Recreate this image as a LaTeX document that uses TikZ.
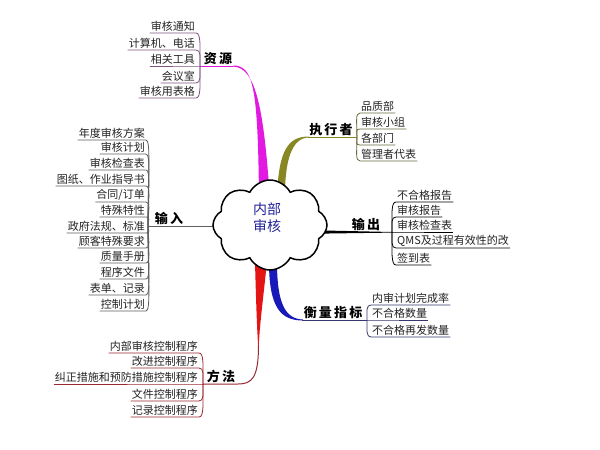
\documentclass[tikz,border=0pt]{standalone}
\usepackage{fontspec}
\setmainfont{Noto Sans CJK SC}
\usetikzlibrary{calc,shapes.symbols}
\definecolor{cmag}{RGB}{225,25,225}
\definecolor{cmagd}{RGB}{125,85,125}
\definecolor{colive}{RGB}{135,135,35}
\definecolor{colived}{RGB}{105,105,60}
\definecolor{cnavy}{RGB}{25,25,185}
\definecolor{cnavyd}{RGB}{55,55,110}
\definecolor{cred}{RGB}{228,20,20}
\definecolor{cdred}{RGB}{155,40,50}
\definecolor{cgray}{RGB}{95,95,95}
\definecolor{cblue}{RGB}{35,35,150}
\definecolor{ctext}{RGB}{35,35,35}
\newcommand\lbr[3]{\draw[#3] (#1.south west) -- (#1.south east) .. controls +(5,0) and ($(#2)!.6!(#2|-#1.south east)$) .. (#2);}
\newcommand\rbr[3]{\draw[#3] (#2) .. controls ($(#2)!.6!(#2|-#1.south west)$) and +(-5,0) .. (#1.south west) -- (#1.south east);}
\tikzset{
  lch/.style={anchor=south east, inner sep=1pt, text=ctext, font=\fontsize{11}{12}\selectfont},
  rch/.style={anchor=south west, inner sep=1pt, text=ctext, font=\fontsize{11}{12}\selectfont},
  lab/.style={anchor=south, inner sep=1pt, font=\bfseries\fontsize{13}{15}\selectfont},
  chl/.style={line width=0.8pt}
}
\begin{document}
\begin{tikzpicture}[x=1pt,y=-1pt]
\useasboundingbox (0,0) rectangle (600,450);
\fill[white] (0,0) rectangle (600,450);

% fan points
\coordinate (F1) at (200,66);
\coordinate (F2) at (357,137);
\coordinate (F3) at (392,232);
\coordinate (F4) at (367,320);
\coordinate (F5) at (203,384);
\coordinate (F6) at (148,226);

% main labels
\node[lab] (ziyuan) at (218,66) {资\,源};
\node[lab] (zhixing) at (331,137) {执\,行\,者};
\node[lab] (shuchu) at (366,232) {输\,出};
\node[lab] (hengliang) at (333,320) {衡\,量\,指\,标};
\node[lab] (fangfa) at (221,384) {方\,法};
\node[lab] (shuru) at (169,226) {输\,入};

% main branches
\draw[cmag,line width=1pt] (F1) -- (ziyuan.south east);
\fill[cmag] (233,65.5) .. controls (253,65.5) and (258,85) .. (259,200) -- (270,200) .. controls (264,110) and (256,66.6) .. (233,66.6) -- cycle;

\draw[colive,line width=1pt] (zhixing.south west) -- (F2);
\fill[colive] (309,136.5) .. controls (288,136.5) and (279,150) .. (277,195) -- (285,195) .. controls (285,160) and (292,137.5) .. (309,137.5) -- cycle;

\fill[black] (315,230.3) -- (F3) -- ++(0,0.6) -- (315,233.7) -- cycle;

\fill[cnavy] (269,262) .. controls (269,308) and (281,320.5) .. (303,320.5) -- (303,319.5) .. controls (285,319) and (277,303) .. (277,262) -- cycle;
\draw[cnavyd,line width=1pt] (302,320) -- (F4);

\fill[cred] (255,262) .. controls (256,300) and (257,330) .. (258.5,352) .. controls (259,330) and (263,300) .. (267,262) -- cycle;
\draw[cdred,line width=1pt] (258.5,345) .. controls (258.5,378) and (252,384) .. (238,384) -- (F5);

\draw[cgray,line width=1pt] (F6) -- (218,226);

% core cloud
\node[cloud, draw, line width=1.5pt, fill=white, cloud puffs=8, cloud puff arc=125, aspect=1.27, minimum width=114pt, minimum height=90pt, inner sep=0pt] (core) at (270,225) {};
\node[text=cblue, align=center, font=\fontsize{14}{17}\selectfont, inner sep=0pt] (coretext) at (267,218) {内部\\审核};

% 资源 children
\node[lch] (zy1) at (196,33) {审核通知};
\node[lch] (zy2) at (196,50) {计算机、电话};
\node[lch] (zy3) at (196,66) {相关工具};
\node[lch] (zy4) at (196,83) {会议室};
\node[lch] (zy5) at (196,98) {审核用表格};
\foreach \n in {zy1,zy2,zy3,zy4,zy5}{\lbr{\n}{F1}{chl,cmagd}}

% 执行者 children
\node[rch] (zx1) at (360,113) {品质部};
\node[rch] (zx2) at (360,129) {审核小组};
\node[rch] (zx3) at (360,145) {各部门};
\node[rch] (zx4) at (360,161) {管理者代表};
\foreach \n in {zx1,zx2,zx3,zx4}{\rbr{\n}{F2}{chl,colived}}

% 输出 children
\node[rch] (sc1) at (396,202) {不合格报告};
\node[rch] (sc2) at (396,217) {审核报告};
\node[rch] (sc3) at (396,232) {审核检查表};
\node[rch] (sc4) at (396,248) {QMS及过程有效性的改};
\node[rch] (sc5) at (396,265) {签到表};
\foreach \n in {sc1,sc2,sc3,sc4,sc5}{\rbr{\n}{F3}{chl,black}}

% 衡量指标 children
\node[rch] (hl1) at (371,305) {内审计划完成率};
\node[rch] (hl2) at (371,320) {不合格数量};
\node[rch] (hl3) at (371,337) {不合格再发数量};
\foreach \n in {hl1,hl2,hl3}{\rbr{\n}{F4}{chl,cnavyd}}

% 方法 children
\node[lch] (ff1) at (199,353) {内部审核控制程序};
\node[lch] (ff2) at (199,368) {改进控制程序};
\node[lch] (ff3) at (199,384) {纠正措施和预防措施控制程序};
\node[lch] (ff4) at (199,401) {文件控制程序};
\node[lch] (ff5) at (199,417) {记录控制程序};
\foreach \n in {ff1,ff2,ff3,ff4,ff5}{\lbr{\n}{F5}{chl,cdred}}

% 输入 children
\node[lch] (sr1) at (146,140) {年度审核方案};
\node[lch] (sr2) at (146,154) {审核计划};
\node[lch] (sr3) at (146,170) {审核检查表};
\node[lch] (sr4) at (146,186) {图纸、作业指导书};
\node[lch] (sr5) at (146,202) {合同/订单};
\node[lch] (sr6) at (146,217) {特殊特性};
\node[lch] (sr7) at (146,233) {政府法规、标准};
\node[lch] (sr8) at (146,248) {顾客特殊要求};
\node[lch] (sr9) at (146,263) {质量手册};
\node[lch] (sr10) at (146,279) {程序文件};
\node[lch] (sr11) at (146,295) {表单、记录};
\node[lch] (sr12) at (146,311) {控制计划};
\foreach \n in {sr1,sr2,sr3,sr4,sr5,sr6,sr7,sr8,sr9,sr10,sr11,sr12}{\lbr{\n}{F6}{chl,cgray}}
\end{tikzpicture}
\end{document}
